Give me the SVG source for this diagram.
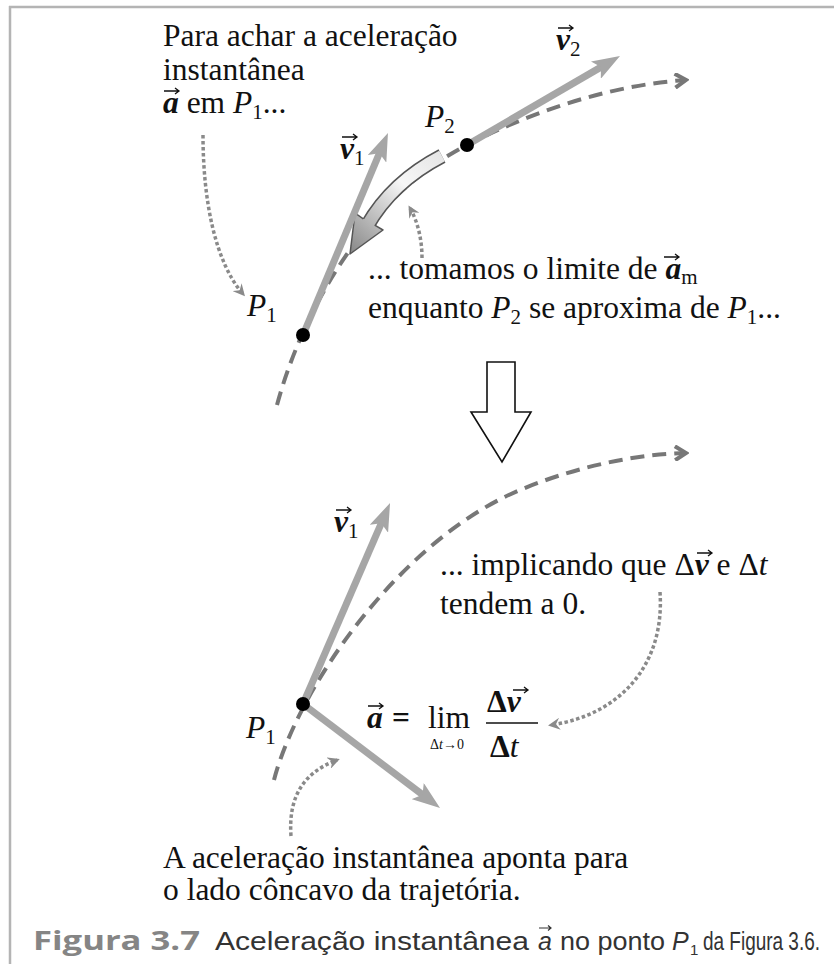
<svg xmlns="http://www.w3.org/2000/svg" width="834" height="964" viewBox="0 0 834 964">
<style>
.t{font-family:"Liberation Serif",serif;font-size:31.5px;fill:#111}
.i{font-style:italic}
.b{font-weight:bold;font-style:italic}
.s{font-size:21px}
.traj{fill:none;stroke:#777;stroke-width:4;stroke-dasharray:14 8}
.vec{stroke:#a6a6a6;stroke-width:7;fill:none}
.dot{fill:none;stroke:#8a8a8a;stroke-width:3.5;stroke-dasharray:3.5 2.5}
.va{fill:none;stroke:#111;stroke-width:1.3}
.cap{font-family:"Liberation Sans Narrow","Liberation Sans",sans-serif;font-size:25px;fill:#333}
</style>
<defs>
<marker id="ah" markerUnits="userSpaceOnUse" viewBox="0 0 28 20" markerWidth="28" markerHeight="20" refX="8" refY="10" orient="auto">
<path d="M0,0 L28,10 L0,20 L6,10 z" fill="#a6a6a6"/>
</marker>
<marker id="ch" markerUnits="userSpaceOnUse" viewBox="0 0 16 16" markerWidth="16" markerHeight="16" refX="13" refY="8" orient="auto">
<path d="M2,1 L13,8 L2,15" fill="none" stroke="#777" stroke-width="4"/>
</marker>
<marker id="dh" markerUnits="userSpaceOnUse" viewBox="0 0 12 12" markerWidth="12" markerHeight="12" refX="9" refY="6" orient="auto">
<path d="M0,0 L12,6 L0,12 L4,6 z" fill="#8a8a8a"/>
</marker>
<linearGradient id="gr" gradientUnits="userSpaceOnUse" x1="440" y1="155" x2="352" y2="252">
<stop offset="0" stop-color="#e6e6e6"/>
<stop offset="0.35" stop-color="#f7f7f7"/>
<stop offset="1" stop-color="#8a8a8a"/>
</linearGradient>
</defs>
<rect width="834" height="964" fill="#fff"/>
<path d="M9,7 H834 M10,6 V964" stroke="#b4b4b4" stroke-width="2.5" fill="none"/>

<g id="connectors">
<path class="traj" d="M277,405 C300,320 360,200 467,145 C531,112 610,85 686,80" marker-end="url(#ch)"/>
<path class="traj" d="M274,780 C298,688 400,540 520,490 C580,465 640,454 686,453" marker-end="url(#ch)"/>
<path class="dot" d="M203,135 C203,200 215,262 243,294" marker-end="url(#dh)"/>
<path class="dot" d="M422,258 C422,240 418,222 410,208" marker-end="url(#dh)"/>
<path class="dot" d="M660,592 C665,665 620,715 551,725" marker-end="url(#dh)"/>
<path class="dot" d="M291,836 C288,795 305,772 337,760" marker-end="url(#dh)"/>
</g>

<g id="am-arrow">
<path d="M442,156 Q392,182 367,226" stroke="#555" stroke-width="15" fill="none"/>
<path d="M442,156 Q392,182 367,226" stroke="url(#gr)" stroke-width="12" fill="none"/>
<path d="M363.3,218.8 L355,213 L350,254 L383,230 L374.7,225.2" fill="url(#gr)" stroke="#555" stroke-width="1.5" stroke-linejoin="round"/>
</g>

<g id="v1-top"><line class="vec" x1="303" y1="335" x2="380.2" y2="151.4" marker-end="url(#ah)"/></g>
<g id="v2-top"><line class="vec" x1="467" y1="145" x2="602.7" y2="66.1" marker-end="url(#ah)"/></g>
<g id="v1-bottom"><line class="vec" x1="303" y1="704" x2="382.1" y2="521.4" marker-end="url(#ah)"/></g>
<g id="a-vector"><line class="vec" x1="303" y1="704" x2="424.1" y2="795.9" marker-end="url(#ah)"/></g>

<g id="points">
<circle cx="303" cy="335" r="7" fill="#000"/>
<circle cx="467" cy="145" r="7" fill="#000"/>
<circle cx="303" cy="704" r="7" fill="#000"/>
</g>

<g id="down-arrow">
<polygon points="487,362 515,362 515,412 531,412 502,462 471,412 487,412" fill="#fff" stroke="#111" stroke-width="1.6"/>
</g>

<g id="label-intro">
<text class="t" x="163" y="46">Para achar a aceleração</text>
<text class="t" x="163" y="80">instantânea</text>
<text class="t" x="163" y="113"><tspan class="b">a</tspan> em <tspan class="i">P</tspan><tspan class="s" dy="6">1</tspan><tspan dy="-6">...</tspan></text>
<path class="va" d="M164,91 h15 m-4,-3 l4,3 l-4,3"/>
</g>

<g id="label-v2">
<text class="t" x="556" y="50"><tspan class="b">v</tspan><tspan class="s" dy="6">2</tspan></text>
<path class="va" d="M558,28 h15 m-4,-3 l4,3 l-4,3"/>
</g>
<g id="label-P2"><text class="t" x="425" y="127"><tspan class="i">P</tspan><tspan class="s" dy="6">2</tspan></text></g>
<g id="label-v1-top">
<text class="t" x="340" y="159"><tspan class="b">v</tspan><tspan class="s" dy="6">1</tspan></text>
<path class="va" d="M342,137 h15 m-4,-3 l4,3 l-4,3"/>
</g>
<g id="label-P1-top"><text class="t" x="247" y="316"><tspan class="i">P</tspan><tspan class="s" dy="6">1</tspan></text></g>

<g id="label-limit">
<text class="t" x="368" y="279">... tomamos o limite de <tspan class="b">a</tspan><tspan class="s" dy="5">m</tspan></text>
<path class="va" d="M664,257 h15 m-4,-3 l4,3 l-4,3"/>
<text class="t" x="368" y="318">enquanto <tspan class="i">P</tspan><tspan class="s" dy="6">2</tspan><tspan dy="-6"> se aproxima de </tspan><tspan class="i">P</tspan><tspan class="s" dy="6">1</tspan><tspan dy="-6">...</tspan></text>
</g>

<g id="label-v1-bottom">
<text class="t" x="334" y="532"><tspan class="b">v</tspan><tspan class="s" dy="6">1</tspan></text>
<path class="va" d="M336,510 h15 m-4,-3 l4,3 l-4,3"/>
</g>
<g id="label-P1-bottom"><text class="t" x="246" y="738"><tspan class="i">P</tspan><tspan class="s" dy="6">1</tspan></text></g>

<g id="label-implying">
<text class="t" x="440" y="575">... implicando que Δ<tspan class="b">v</tspan> e Δ<tspan class="i">t</tspan></text>
<text class="t" x="440" y="614">tendem a 0.</text>
<path class="va" d="M697,553 h15 m-4,-3 l4,3 l-4,3"/>
</g>

<g id="formula">
<text class="t" x="367" y="728"><tspan class="b">a</tspan></text>
<path class="va" d="M368,706 h15 m-4,-3 l4,3 l-4,3"/>
<text class="t" x="392" y="728" style="font-weight:bold">=</text>
<text class="t" x="428" y="728">lim</text>
<text class="t" x="430" y="749" style="font-size:14px">Δ<tspan class="i">t</tspan>→0</text>
<text class="t" x="487" y="712" style="font-weight:bold">Δ<tspan class="b">v</tspan></text>
<path class="va" d="M513,690 h15 m-4,-3 l4,3 l-4,3"/>
<line x1="486" y1="723" x2="538" y2="723" stroke="#111" stroke-width="1.5"/>
<text class="t" x="490" y="757" style="font-weight:bold">Δ<tspan class="i" style="font-weight:normal">t</tspan></text>
</g>

<g id="label-concave">
<text class="t" x="163" y="868">A aceleração instantânea aponta para</text>
<text class="t" x="163" y="900">o lado côncavo da trajetória.</text>
</g>

<g id="caption">
<text x="33" y="950" style="font-family:'Open Sans','Liberation Sans',sans-serif;font-size:27px;font-weight:bold;fill:#858585" textLength="167" lengthAdjust="spacingAndGlyphs">Figura 3.7</text>
<text class="cap" x="215" y="950" textLength="314" lengthAdjust="spacingAndGlyphs">Aceleração instantânea</text>
<text class="cap" x="538" y="950" style="font-style:italic">a</text>
<path d="M539,928 h12 m-3,-2.5 l3,2.5 l-3,2.5" fill="none" stroke="#333" stroke-width="1.2"/>
<text class="cap" x="560" y="950" textLength="105" lengthAdjust="spacingAndGlyphs">no ponto</text>
<text class="cap" x="672" y="950" style="font-style:italic">P</text>
<text class="cap" x="690" y="955" style="font-size:15px">1</text>
<text class="cap" x="703" y="950" textLength="117" lengthAdjust="spacingAndGlyphs">da Figura 3.6.</text>
</g>
</svg>
